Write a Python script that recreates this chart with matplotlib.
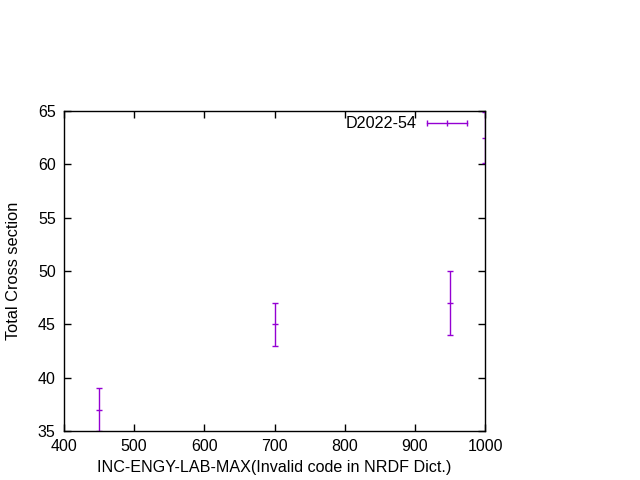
import matplotlib.pyplot as plt

plt.rcParams['font.family'] = ['Liberation Sans', 'DejaVu Sans']

# data
energy = [450, 700, 950, 1000]
xs = [37.0, 45.0, 47.0, 62.5]
xs_err = [2.0, 2.0, 3.0, 2.4]
label = 'D2022-54'
color = '#9400d3'

fig = plt.figure(figsize=(6.4, 4.8), dpi=100)
ax = fig.add_axes([0.1, 0.102, 0.658, 0.667])

ax.errorbar(energy, xs, yerr=xs_err, fmt='_', color=color, ecolor=color,
            markersize=5, elinewidth=1, capsize=2, capthick=1, mew=1)

ax.set_xlim(400, 1000)
ax.set_ylim(35, 65)
ax.set_xticks(range(400, 1001, 100))
ax.set_yticks(range(35, 66, 5))
ax.tick_params(direction='in', top=True, right=True, length=5, width=1,
               labelsize=11.5, pad=6)
for s in ax.spines.values():
    s.set_linewidth(1)

ax.set_xlabel('INC-ENGY-LAB-MAX(Invalid code in NRDF Dict.)', fontsize=11.6, labelpad=4)
ax.set_ylabel('Total Cross section', fontsize=11.8, labelpad=12)

# gnuplot-style key in the top right corner
ax.text(0.838, 0.962, label, transform=ax.transAxes, ha='right', va='center', fontsize=11.6)
ax.plot([0.862, 0.957], [0.962, 0.962], transform=ax.transAxes, color=color, lw=1)
ax.plot([0.862, 0.9095, 0.957], [0.962] * 3, transform=ax.transAxes, color=color,
        ls='none', marker='|', markersize=4, mew=1)

fig.savefig('out.png', dpi=100)
